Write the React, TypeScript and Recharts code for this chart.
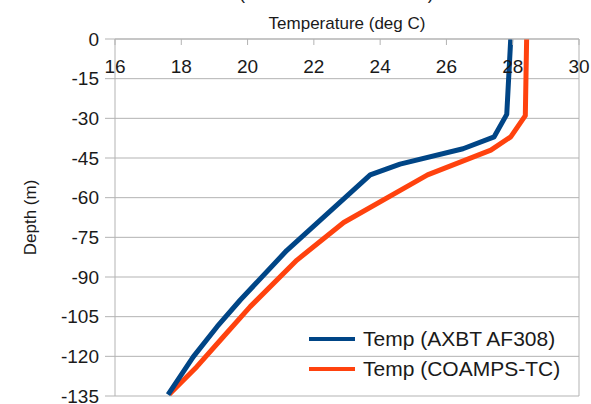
import {
  LineChart,
  Line,
  XAxis,
  YAxis,
  CartesianGrid,
  Legend,
  ReferenceLine,
} from "recharts";

const depthTicks = [0, -15, -30, -45, -60, -75, -90, -105, -120, -135];
const tempTicks = [16, 18, 20, 22, 24, 26, 28, 30];
const seriesNames = ["Temp (AXBT AF308)", "Temp (COAMPS-TC)"];

// AXBT drop
const axbtDepth = [0, -28.5, -37, -41.5, -47.3, -51.4, -80, -98.7, -108.8, -120.2, -134.5];
const axbtTemp = [27.94, 27.82, 27.44, 26.5, 24.6, 23.7, 21.18, 19.78, 19.08, 18.36, 17.6];

// COAMPS-TC model profile
const coampsDepth = [0, -29, -37, -42, -51.4, -69.4, -83.6, -101.2, -112.6, -123.9, -132.8, -134.3];
const coampsTemp = [28.42, 28.38, 27.94, 27.34, 25.43, 22.9, 21.49, 20.08, 19.27, 18.47, 17.76, 17.64];

const axbt = axbtDepth.map((depth, i) => ({ depth, temp: axbtTemp[i] }));
const coamps = coampsDepth.map((depth, i) => ({ depth, temp: coampsTemp[i] }));

const GRID = "#b3b3b3";
const TEXT = "#1a1a1a";
const FONT = '"Liberation Sans", Arial, sans-serif';

function TopTick(props: any) {
  const { x, y, payload } = props;
  return (
    <g>
      <line x1={x} y1={y} x2={x} y2={y + 6} stroke={GRID} />
      <text x={x} y={y + 34} textAnchor="middle" fontSize={19} fill={TEXT} fontFamily={FONT}>
        {payload.value}
      </text>
    </g>
  );
}

function TopLabel(props: any) {
  const { viewBox } = props;
  const cx = viewBox.x + viewBox.width / 2;
  return (
    <g>
      <text x={239} y={-1} fontSize={18} fill={TEXT} fontFamily={FONT}>
        (AXBT vs COAMPS-TC)
      </text>
      <text x={cx} y={viewBox.y + 29} textAnchor="middle" fontSize={17} fill={TEXT} fontFamily={FONT}>
        Temperature (deg C)
      </text>
    </g>
  );
}

function DepthLabel(props: any) {
  const { viewBox } = props;
  const cy = viewBox.y + viewBox.height / 2;
  return (
    <text
      x={30}
      y={cy}
      transform={`rotate(-90, 30, ${cy})`}
      textAnchor="middle"
      dominantBaseline="central"
      fontSize={17}
      fill={TEXT}
      fontFamily={FONT}
    >
      Depth (m)
    </text>
  );
}

function LegendBox({ payload }: any) {
  const items = [...(payload || [])].sort(
    (a: any, b: any) => seriesNames.indexOf(a.value) - seriesNames.indexOf(b.value)
  );
  return (
    <div style={{ fontFamily: FONT }}>
      {items.map((item: any) => (
        <div key={item.value} style={{ display: "flex", alignItems: "center", height: 30 }}>
          <span style={{ width: 46, height: 4, background: item.color, marginRight: 8 }} />
          <span style={{ fontSize: 21, color: TEXT, whiteSpace: "nowrap" }}>{item.value}</span>
        </div>
      ))}
    </div>
  );
}

export default function App() {
  return (
    <div style={{ position: "absolute", left: 0, top: 0, width: 591, height: 404, background: "#fff", fontFamily: FONT }}>
      <LineChart width={591} height={404} margin={{ top: 0, right: 12, bottom: 8, left: 0 }}>
        <CartesianGrid vertical={false} stroke={GRID} />
        <XAxis
          type="number"
          dataKey="temp"
          orientation="top"
          domain={[16, 30]}
          ticks={tempTicks}
          interval={0}
          height={39}
          allowDataOverflow
          axisLine={{ stroke: GRID }}
          tickLine={false}
          tickSize={0}
          tickMargin={0}
          tick={<TopTick />}
          label={<TopLabel />}
        />
        <YAxis
          type="number"
          dataKey="depth"
          domain={[-135, 0]}
          ticks={depthTicks}
          interval={0}
          width={115}
          allowDataOverflow
          axisLine={{ stroke: GRID }}
          tickLine={{ stroke: GRID }}
          tickSize={10}
          tickMargin={6}
          tick={{ fill: TEXT, fontSize: 19, fontFamily: FONT }}
          label={<DepthLabel />}
        />
        <ReferenceLine x={30} stroke={GRID} />
        <Line
          data={coamps}
          dataKey="depth"
          name={seriesNames[1]}
          type="linear"
          stroke="#ff420e"
          strokeWidth={5}
          strokeLinejoin="round"
          dot={false}
          activeDot={false}
          isAnimationActive={false}
        />
        <Line
          data={axbt}
          dataKey="depth"
          name={seriesNames[0]}
          type="linear"
          stroke="#004586"
          strokeWidth={5}
          strokeLinejoin="round"
          dot={false}
          activeDot={false}
          isAnimationActive={false}
        />
        <Legend
          layout="vertical"
          align="center"
          verticalAlign="middle"
          content={<LegendBox />}
          wrapperStyle={{ position: "absolute", left: 309, top: 324, width: "auto", height: "auto" }}
        />
      </LineChart>
    </div>
  );
}
